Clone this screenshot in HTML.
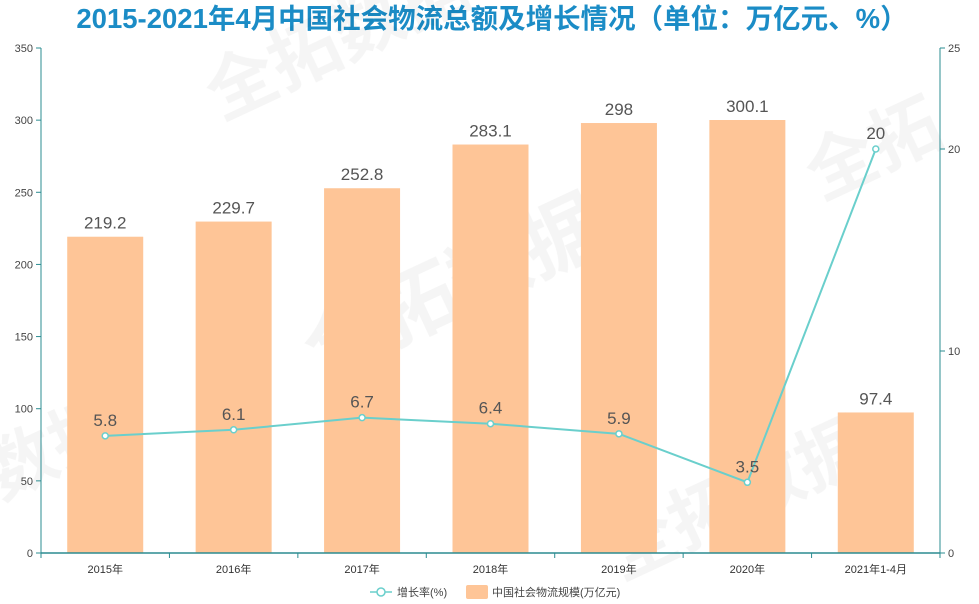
<!DOCTYPE html>
<html><head><meta charset="utf-8"><style>
body{margin:0;background:#fff;}
svg{display:block;font-family:"Liberation Sans","Noto Sans CJK SC",sans-serif;}
</style></head><body>
<svg id="c" width="979" height="604">
<text x="492" y="28" text-anchor="middle" font-size="27.5" font-weight="bold" fill="#1b8cc6">2015-2021年4月中国社会物流总额及增长情况（单位：万亿元、%）</text>
<g id="wm" fill="#000" opacity="0.04" font-weight="bold">
<text x="220" y="120" font-size="70" transform="rotate(-25 220 120)">全拓数据</text>
<text x="320" y="380" font-size="80" transform="rotate(-25 320 380)">全拓数据</text>
<text x="0" y="500" font-size="70" transform="rotate(-25 0 500)">数据</text>
<text x="620" y="580" font-size="70" transform="rotate(-25 620 580)">全拓数据</text>
<text x="820" y="200" font-size="70" transform="rotate(-25 820 200)">全拓</text>
</g>
</svg>
<script>
const categories=["2015年","2016年","2017年","2018年","2019年","2020年","2021年1-4月"];
const scaleValues=[219.2,229.7,252.8,283.1,298,300.1,97.4];
const growthValues=[5.8,6.1,6.7,6.4,5.9,3.5,20];
const leftTicks=[0,50,100,150,200,250,300,350];
const rightTicks=[0,10,20,25];
const NS="http://www.w3.org/2000/svg";
const svg=document.getElementById('c');
const X0=41,X1=940,Y0=553,Y1=48;
const bw=(X1-X0)/categories.length;
const xc=i=>X0+bw*(i+0.5);
const yl=v=>Y0-(v/350)*(Y0-Y1);
const yr=v=>Y0-(v/25)*(Y0-Y1);
function el(t,a,p){const e=document.createElementNS(NS,t);for(const k in a)e.setAttribute(k,a[k]);(p||svg).appendChild(e);return e;}
const axisC="#2b8c91";
scaleValues.forEach((v,i)=>{
 const r=el('rect',{x:xc(i)-38,y:yl(v),width:76,height:Y0-yl(v),fill:"#fec597"});
 
 
 const t=el('text',{x:xc(i),y:yl(v)-8,'text-anchor':'middle','font-size':17,fill:'#555'});
 t.textContent=v;
 
 
});
const ax=el('line',{x1:X0,y1:Y0,x2:X1,y2:Y0,stroke:axisC,'stroke-width':1.5});


const la=el('line',{x1:X0,y1:Y0,x2:X0,y2:Y1,stroke:axisC});


const ra=el('line',{x1:X1,y1:Y0,x2:X1,y2:Y1,stroke:axisC});


leftTicks.forEach(v=>{
 el('line',{x1:X0-5,y1:yl(v),x2:X0,y2:yl(v),stroke:axisC});
 const t=el('text',{x:X0-8,y:yl(v)+4,'text-anchor':'end','font-size':11,fill:'#444'});
 t.textContent=v;
 
 
});
rightTicks.forEach(v=>{
 el('line',{x1:X1,y1:yr(v),x2:X1+5,y2:yr(v),stroke:axisC});
 const t=el('text',{x:X1+8,y:yr(v)+4,'font-size':11,fill:'#444'});
 t.textContent=v;
 
 
});
for(let i=0;i<=categories.length;i++)el('line',{x1:X0+bw*i,y1:Y0,x2:X0+bw*i,y2:Y0+5,stroke:axisC});
categories.forEach((c,i)=>{
 const t=el('text',{x:xc(i),y:573,'text-anchor':'middle','font-size':11,fill:'#333'});
 t.textContent=c;
 
 
});
const pts=growthValues.map((v,i)=>xc(i)+','+yr(v)).join(' ');
const pl=el('polyline',{points:pts,fill:'none',stroke:'#6acfcc','stroke-width':2});


growthValues.forEach((v,i)=>{
 const c=el('circle',{cx:xc(i),cy:yr(v),r:3,fill:'#fff',stroke:'#6acfcc','stroke-width':1.5});
 
 
 const t=el('text',{x:xc(i),y:yr(v)-10,'text-anchor':'middle','font-size':17,fill:'#555'});
 t.textContent=v;
 
 
});
const lg=el('g',{});


el('line',{x1:370,y1:592,x2:392,y2:592,stroke:'#6acfcc','stroke-width':1.5},lg);
el('circle',{cx:381,cy:592,r:4,fill:'#fff',stroke:'#6acfcc','stroke-width':1.5},lg);
const l1=el('text',{x:397,y:596,'font-size':11,fill:'#444'},lg);l1.textContent='增长率(%)';
el('rect',{x:466,y:585,width:22,height:14,rx:2,fill:'#fec597'},lg);
const l2=el('text',{x:492,y:596,'font-size':11,fill:'#444'},lg);l2.textContent='中国社会物流规模(万亿元)';
</script>
</body></html>
